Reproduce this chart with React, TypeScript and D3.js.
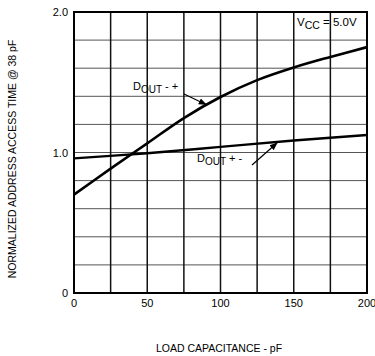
import React from "react";
import * as d3 from "d3";

const xTicks = [0, 50, 100, 150, 200];
const xGrid = [25, 50, 75, 100, 125, 150, 175];
const yTicks = [0, 1.0, 2.0];
const yTickLabels = ["0", "1.0", "2.0"];
const yGrid = [0.2, 0.4, 0.6, 0.8, 1.0, 1.2, 1.4, 1.6, 1.8];

const loadPF = [0, 25, 50, 75, 100, 125, 150, 175, 200];
const doutMinusPlus = [0.7, 0.885, 1.065, 1.245, 1.395, 1.515, 1.605, 1.68, 1.75];
const loadPF2 = [0, 50, 100, 150, 200];
const doutPlusMinus = [0.958, 0.995, 1.04, 1.085, 1.125];

const W = 375, H = 356;
const L = 74, R = 367, T = 12, B = 293;
const FONT = "'Liberation Sans', Arial, sans-serif";

export default function App() {
  const x = d3.scaleLinear().domain([0, 200]).range([L, R]);
  const y = d3.scaleLinear().domain([0, 2]).range([B, T]);
  const line = d3
    .line<[number, number]>()
    .x((d) => x(d[0]))
    .y((d) => y(d[1]))
    .curve(d3.curveCatmullRom.alpha(0.5));
  const s1 = loadPF.map((v, i) => [v, doutMinusPlus[i]] as [number, number]);
  const s2 = loadPF2.map((v, i) => [v, doutPlusMinus[i]] as [number, number]);

  return (
    <svg width={W} height={H} style={{ position: "absolute", left: 0, top: 0, background: "#fff" }}>
      <defs>
        <marker id="ah" viewBox="0 0 10 10" refX="9" refY="5" markerWidth="8" markerHeight="8" orient="auto" markerUnits="userSpaceOnUse">
          <path d="M0,1 L10,5 L0,9 z" fill="#000" />
        </marker>
      </defs>
      <rect x={0} y={0} width={W} height={H} fill="#fff" />
      {yGrid.map((v) => (
        <line key={"yg" + v} x1={L} x2={R} y1={y(v)} y2={y(v)} stroke="#555" strokeWidth={1} />
      ))}
      {xGrid.map((v) => (
        <line key={"xg" + v} x1={x(v)} x2={x(v)} y1={T} y2={B} stroke="#111" strokeWidth={1.5} />
      ))}
      <rect x={L} y={T} width={R - L} height={B - T} fill="none" stroke="#000" strokeWidth={2} />
      <path d={line(s1) || ""} fill="none" stroke="#000" strokeWidth={2.6} />
      <path d={line(s2) || ""} fill="none" stroke="#000" strokeWidth={2.4} />

      {xTicks.map((v) => (
        <text key={"xt" + v} x={x(v)} y={307} textAnchor="middle" fontFamily={FONT} fontSize={11} fill="#000">
          {v}
        </text>
      ))}
      {yTicks.map((v, i) => (
        <text key={"yt" + v} x={68} y={y(v) + 4} textAnchor="end" fontFamily={FONT} fontSize={11} fill="#000">
          {yTickLabels[i]}
        </text>
      ))}

      <text x={133} y={90} fontFamily={FONT} fontSize={11} fill="#000">
        D<tspan fontSize={10} dy={3}>OUT</tspan>
        <tspan dy={-3}> - +</tspan>
      </text>
      <line x1={184} y1={94} x2={206} y2={104.5} stroke="#000" strokeWidth={1.2} markerEnd="url(#ah)" />

      <text x={197} y={162} fontFamily={FONT} fontSize={11} fill="#000">
        D<tspan fontSize={10} dy={3}>OUT</tspan>
        <tspan dy={-3}> + -</tspan>
      </text>
      <line x1={252} y1={165} x2={277} y2={143} stroke="#000" strokeWidth={1.2} markerEnd="url(#ah)" />

      <text x={297} y={26} fontFamily={FONT} fontSize={11.5} fill="#000">
        V<tspan fontSize={10.5} dy={3}>CC</tspan>
        <tspan dy={-3}> = 5.0V</tspan>
      </text>

      <text
        transform={`translate(16,159) rotate(-90)`}
        textAnchor="middle"
        fontFamily={FONT}
        fontSize={10.5}
        fill="#000"
      >
        NORMALIZED ADDRESS ACCESS TIME @ 38 pF
      </text>
      <text x={219} y={352} textAnchor="middle" fontFamily={FONT} fontSize={10.5} fill="#000">
        LOAD CAPACITANCE  - pF
      </text>
    </svg>
  );
}
